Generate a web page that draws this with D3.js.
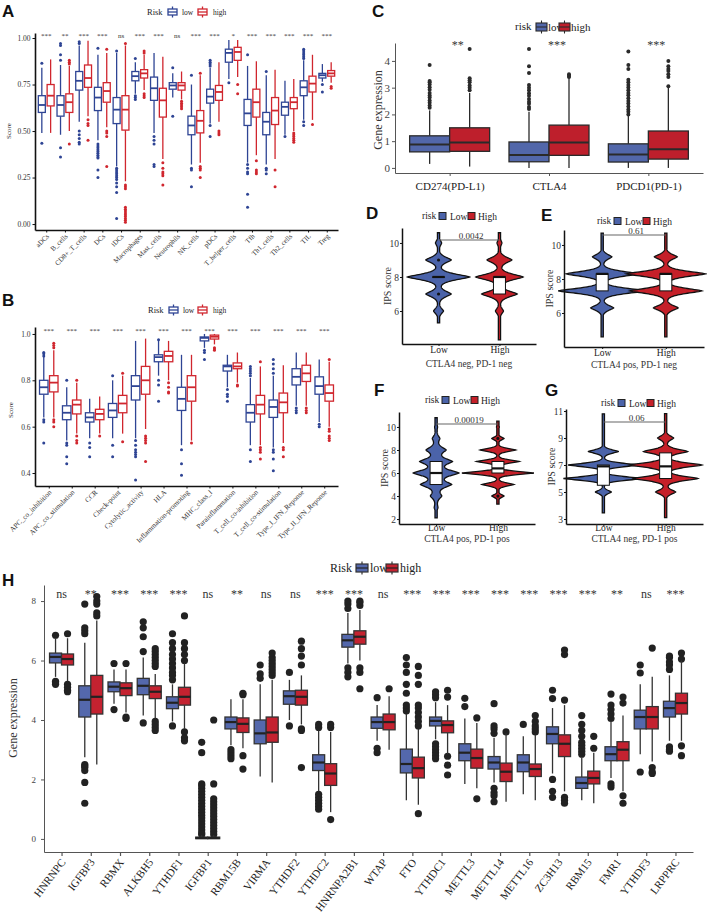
<!DOCTYPE html>
<html><head><meta charset="utf-8">
<script src="https://cdn.jsdelivr.net/npm/d3@7"></script>
<style>body{margin:0;background:#fff}svg{display:block}</style>
</head><body><svg id="c" width="707" height="922"></svg>
<script>
// ---------- Panel A ----------
const aCats = ["aDCs","B_cells","CD8+_T_cells","DCs","iDCs","Macrophages","Mast_cells","Neutrophils","NK_cells","pDCs","T_helper_cells","Tfh","Th1_cells","Th2_cells","TIL","Treg"];
const aSig = ["***","**","***","***","ns","***","***","ns","***","***","*","***","***","***","***","***"];
const aLow = [[0.49,0.60,0.64,0.69,0.84],[0.48,0.58,0.64,0.69,0.855],[0.55,0.72,0.77,0.82,0.96],[0.45,0.61,0.68,0.735,0.91],[0.31,0.54,0.615,0.68,0.92],[0.70,0.77,0.795,0.82,0.87],[0.49,0.665,0.73,0.79,0.92],[0.68,0.725,0.745,0.76,0.81],[0.32,0.48,0.53,0.58,0.75],[0.54,0.65,0.685,0.725,0.84],[0.78,0.87,0.92,0.94,0.99],[0.33,0.53,0.595,0.67,0.85],[0.32,0.48,0.55,0.60,0.80],[0.48,0.585,0.63,0.655,0.77],[0.56,0.69,0.735,0.77,0.88],[0.765,0.785,0.80,0.81,0.86]];
const aLowOut = [[0.865,0.435],[0.88,0.91,0.96,0.97,0.41,0.36],[0.97,0.98,0.50,0.48,0.46,0.44,0.43],[0.945,0.43,0.42,0.41,0.40,0.39,0.38,0.37,0.36,0.355,0.29,0.25],[0.93,0.30,0.29,0.28,0.27,0.26,0.25,0.24,0.22,0.20,0.17,0.03],[0.89,0.69,0.68,0.67],[0.47,0.45,0.43,0.32,0.31],[0.84,0.58],[0.80,0.30,0.29,0.20],[0.85,0.86,0.87,0.88,0.53,0.47],[0.76],[0.91,0.32,0.30,0.28,0.27,0.16,0.09],[0.82,0.30,0.29,0.27],[0.47],[0.89,0.90,0.91,0.92,0.93,0.94,0.55,0.53],[0.75,0.71]];
const aHigh = [[0.49,0.635,0.69,0.75,0.885],[0.50,0.60,0.655,0.70,0.85],[0.58,0.735,0.785,0.855,0.985],[0.52,0.655,0.715,0.76,0.92],[0.23,0.505,0.615,0.69,0.96],[0.72,0.785,0.81,0.83,0.91],[0.35,0.575,0.665,0.73,0.90],[0.67,0.72,0.745,0.76,0.82],[0.33,0.49,0.555,0.61,0.80],[0.55,0.665,0.71,0.745,0.87],[0.79,0.88,0.925,0.95,0.99],[0.37,0.575,0.655,0.725,0.875],[0.35,0.535,0.61,0.68,0.83],[0.50,0.62,0.655,0.68,0.78],[0.56,0.71,0.755,0.795,0.91],[0.76,0.795,0.81,0.825,0.87]];
const aHighOut = [[],[0.88,0.87,0.86,0.43],[0.56,0.54,0.53,0.45],[0.94,0.50,0.49,0.47,0.31],[0.97,0.21,0.20,0.19,0.09,0.08,0.07,0.06,0.05,0.04,0.03,0.02,0.01],[0.93,0.92,0.70,0.69,0.68],[0.33,0.30,0.28,0.27,0.26,0.21],[0.66,0.65,0.64,0.63,0.62],[0.81,0.31,0.30,0.29,0.25],[0.50,0.49,0.48],[0.75,0.70],[0.34,0.29,0.28,0.27],[0.29,0.20],[0.49,0.48,0.47,0.46,0.45,0.44],[0.535],[0.74,0.73]];
const aTicks = [0,0.25,0.5,0.75,1];

// ---------- Panel B ----------
const bCats = ["APC_co_inhibition","APC_co_stimulation","CCR","Check-point","Cytolytic_activity","HLA","Inflammation-promoting","MHC_class_I","Parainflammation","T_cell_co-inhibition","T_cell_co-stimulation","Type_I_IFN_Reponse","Type_II_IFN_Reponse"];
const bSig = ["***","***","***","***","***","***","***","***","***","***","***","***","***"];
const bLow = [[0.64,0.74,0.77,0.80,0.91],[0.54,0.63,0.66,0.69,0.77],[0.55,0.62,0.64,0.66,0.72],[0.55,0.64,0.67,0.70,0.80],[0.55,0.715,0.775,0.82,0.97],[0.82,0.88,0.90,0.91,0.97],[0.52,0.67,0.72,0.77,0.91],[0.94,0.97,0.983,0.987,1.0],[0.77,0.84,0.86,0.865,0.91],[0.52,0.62,0.66,0.695,0.81],[0.51,0.64,0.685,0.715,0.82],[0.69,0.78,0.815,0.85,0.92],[0.62,0.74,0.775,0.815,0.89]];
const bLowOut = [[0.92,0.915,0.905,0.63,0.62,0.53],[0.80,0.53,0.52,0.47,0.44],[0.53,0.51,0.47],[0.82,0.52,0.47],[0.54,0.52,0.50,0.49,0.48,0.47,0.37],[0.975,0.80,0.78,0.71],[0.50,0.44,0.39],[0.93,0.92,0.89],[0.76,0.74,0.73,0.71],[0.82,0.83,0.84,0.85,0.86,0.50,0.45],[0.83,0.85,0.87,0.89,0.50,0.49,0.46,0.41],[0.68,0.67,0.66],[0.61,0.60]];
const bHigh = [[0.64,0.75,0.79,0.82,0.93],[0.57,0.655,0.695,0.715,0.79],[0.57,0.63,0.655,0.675,0.73],[0.57,0.66,0.70,0.735,0.82],[0.59,0.74,0.80,0.86,0.98],[0.80,0.88,0.905,0.925,0.97],[0.54,0.71,0.77,0.82,0.91],[0.955,0.978,0.988,0.995,1.0],[0.79,0.85,0.86,0.875,0.92],[0.52,0.655,0.695,0.735,0.86],[0.53,0.66,0.705,0.745,0.865],[0.69,0.795,0.83,0.865,0.92],[0.60,0.71,0.745,0.78,0.88]];
const bHighOut = [[0.94,0.95,0.96,0.63,0.62,0.60],[0.80,0.56,0.54,0.53],[0.56],[0.83,0.535],[0.56,0.55,0.54,0.53,0.45],[0.79,0.77,0.75,0.745],[0.53],[0.94,0.935,0.93],[0.78,0.775],[0.88,0.51,0.50,0.49,0.46],[0.51,0.50,0.47],[0.68,0.67,0.66],[0.89,0.59,0.58,0.56,0.55,0.54]];
const bTicks = [0.4,0.6,0.8,1.0];

// ---------- Panel C ----------
const cCats = ["CD274(PD-L1)","CTLA4","PDCD1(PD-1)"];
const cSig = ["**","***","***"];
const cLow = [[0.15,0.6,0.88,1.2,2.15],[0,0.23,0.48,0.97,2.1],[0,0.22,0.5,0.9,1.95]];
const cLowOut = [[2.25,2.33,2.44,2.52,2.63,2.71,2.8,2.92,3.02,3.12,3.2,3.25,3.85],[2.2,2.28,2.4,2.47,2.58,2.7,2.79,2.9,3.0,3.1,3.55,3.8,4.45],[2.0,2.1,2.18,2.3,2.41,2.5,2.6,2.72,2.8,2.9,3.01,3.1,3.2,3.3,3.7,3.85,4.35]];
const cHigh = [[0.05,0.62,0.95,1.5,2.8],[0,0.47,0.95,1.6,3.35],[0,0.33,0.7,1.38,3.0]];
const cHighOut = [[2.9,3.0,3.08,3.2,3.28,3.35,4.45],[3.4,3.45,3.5],[3.05,3.4,3.5,3.62,3.7,3.8,4.0]];
const cTicks = [0,1,2,3,4];

// ---------- Panels D-G (IPS violins) ----------
const ipsCats = ["Low","High"];
const dLowLevels = [6,7,8,9,10],  dLowDens = [0.16,0.41,1.0,0.41,0.1], dLowRange = [5.3,10.6], dLowBox = [8,8,8], dLowOut = [9,7];
const dHighLevels = [6,7,8,9,10], dHighDens = [0.13,0.57,0.76,0.4,0.08], dHighRange = [4.3,10.6], dHighBox = [7,8,8];
const eLowLevels = [6.3,7.3,8.3,9.3], eLowDens = [0.26,1.0,0.82,0.22], eLowRange = [4.6,10.7], eLowBox = [7.3,8.3,8.3];
const eHighLevels = [6.3,7.3,8.3,9.3], eHighDens = [0.28,0.82,0.9,0.26], eHighRange = [4.6,10.7], eHighBox = [7.3,8.3,8.3];
const fLowLevels = [3,4,5,6,7,8,9,10], fLowDens = [0.05,0.15,0.42,0.62,0.44,0.27,0.1,0.04], fLowRange = [2.1,10.8], fLowBox = [5,6,7];
const fHighLevels = [4,5,6,7,8,9,10], fHighDens = [0.17,0.45,1.0,0.6,0.5,0.17,0.04], fHighRange = [3.3,10.5], fHighBox = [6,6.4,7], fHighOut = [9,4];
const gLowLevels = [5,6,7,8], gLowDens = [0.2,1.0,0.88,0.38], gLowRange = [3.45,10.8], gLowBox = [5.5,6.9,7];
const gHighLevels = [5,6,7,8,9], gHighDens = [0.25,0.8,0.9,0.55,0.2], gHighRange = [3.1,10.8], gHighBox = [6,6.9,7.9];
const dTicks = [6,8,10], eTicks = [6,8,10], fTicks = [2,4,6,8,10], gTicks = [3,5,7,9,11];
const dP = "0.0042", eP = "0.61", fP = "0.00019", gP = "0.06";
const dTitle = "CTLA4 neg, PD-1 neg", eTitle = "CTLA4 pos, PD-1 neg", fTitle = "CTLA4 pos, PD-1 pos", gTitle = "CTLA4 neg, PD-1 pos";

// ---------- Panel H ----------
const hCats = ["HNRNPC","IGFBP3","RBMX","ALKBH5","YTHDF1","IGFBP1","RBM15B","VIRMA","YTHDF2","YTHDC2","HNRNPA2B1","WTAP","FTO","YTHDC1","METTL3","METTL14","METTL16","ZC3H13","RBM15","FMR1","YTHDF3","LRPPRC"];
const hSig = ["ns","**","***","***","***","ns","**","ns","ns","***","***","ns","***","***","***","***","***","***","***","**","ns","***"];
const hLow = [[5.45,5.92,6.12,6.25,6.75],[2.75,4.1,4.68,5.15,6.6],[4.55,4.95,5.12,5.28,5.7],[4.15,4.85,5.15,5.4,6.1],[3.95,4.38,4.58,4.78,5.2],[0,0.01,0.03,0.06,0.12],[3.15,3.7,3.93,4.1,4.7],[2.1,3.2,3.55,4.0,5.2],[4.0,4.53,4.8,4.98,5.35],[1.6,2.3,2.57,2.83,3.65],[5.9,6.45,6.68,6.88,7.6],[3.3,3.72,3.93,4.1,4.5],[1.3,2.22,2.52,3.02,4.2],[3.35,3.8,3.97,4.1,4.6],[1.85,2.63,2.9,3.2,4.05],[1.9,2.35,2.57,2.77,3.4],[1.5,2.26,2.57,2.83,3.45],[2.2,3.2,3.53,3.77,4.4],[1.3,1.7,1.88,2.08,2.75],[2.05,2.63,2.85,3.1,3.95],[2.85,3.7,4.1,4.33,5.2],[3.3,4.1,4.4,4.63,5.5]];
const hLowOut = [[6.85,5.3,5.25,5.2],[6.9,7.0,7.1,7.9,2.5,2.45,2.4,2.3,1.9,1.2],[5.9,4.35],[6.3,6.8,7.1,7.3,3.9],[5.35,5.5,5.6,5.75,5.9,6.05,6.2,6.4,6.6,6.9,3.8],[0.15,0.2,0.3,0.4,0.5,0.6,0.7,0.8,0.9,1.0,1.1,1.2,1.3,1.4,1.5,1.6,1.7,1.8,1.85,2.9,3.25],[3.0,2.9,2.8,2.7],[5.4,5.55,5.85],[5.6,3.8],[3.75,3.85,1.5,1.4,1.3,1.2,1.1,1.0],[7.75,7.9,8.0,5.75,5.6,5.45],[4.75,3.05,2.9],[4.3,4.4,4.5,4.9,5.2,5.6,5.85,6.1],[4.75,4.85,4.95,3.2,3.1,3.0,2.9,2.8,2.7],[4.45,4.73],[3.55,3.7,3.8,4.55,1.7,1.55,1.45,1.25],[3.85],[4.72,5.0,2.0,1.6,1.4],[2.85,2.95,3.05,3.15,3.25,3.45,3.65,3.85,4.15],[4.05,4.2,4.35,4.5,4.87,1.85,1.75],[5.58,5.85,2.25],[5.7,5.85,5.95,6.1,6.15,3.1,3.0,2.95]];
const hHigh = [[5.3,5.85,6.05,6.22,6.75],[2.5,4.2,4.78,5.5,7.35],[4.25,4.82,5.07,5.25,5.7],[4.05,4.72,4.95,5.15,5.55],[3.7,4.5,4.78,5.1,5.9],[0,0.01,0.03,0.06,0.12],[3.05,3.58,3.87,4.07,4.7],[1.9,3.25,3.58,4.1,5.35],[3.85,4.5,4.78,5.0,5.5],[0.9,1.8,2.2,2.53,3.6],[6.0,6.55,6.8,7.0,7.7],[3.0,3.67,3.93,4.2,4.8],[1.15,2.05,2.38,2.75,3.7],[2.85,3.57,3.83,3.97,4.5],[1.7,2.38,2.72,3.02,3.9],[1.25,1.93,2.26,2.55,3.55],[1.3,2.1,2.35,2.52,3.5],[1.6,2.77,3.2,3.5,4.5],[1.2,1.85,2.05,2.28,2.9],[1.6,2.63,3.0,3.27,4.15],[2.6,3.7,4.1,4.45,5.45],[3.3,4.2,4.57,4.9,6.0]];
const hHighOut = [[6.9,5.2,5.1,5.0,4.95],[7.5,7.6,7.9,8.0,8.15],[5.9,4.1,4.05],[5.8,5.9,6.0,6.1,6.2,6.3,6.4,3.95,3.85,3.75,3.65],[6.0,6.2,6.4,6.6,7.5,3.6,3.4,3.3],[0.15,0.25,0.35,0.45,0.55,0.65,0.75,0.85,0.95,1.05,1.15,1.25,1.35,1.85,4.0],[4.85,4.9,2.8,2.35],[5.5,5.6,5.7,5.8,5.9,6.0,6.1,6.25],[5.85,6.15,6.4,6.65,3.7,3.65,2.4],[3.75,3.85,0.65],[7.85,7.95,8.0,5.75,5.6,5.05],[5.05],[3.8,3.95,4.1,4.25,4.4,4.5,5.2,5.5,5.8,0.85],[4.77,5.0,2.78,2.48,2.15],[4.07,1.35],[3.6],[3.6,3.7,3.8,3.95,4.15],[4.67,6.2,6.35,1.4,1.3,1.2],[3.05,3.45],[4.57,4.77,1.45,1.2],[6.42,2.4,2.25,2.2],[6.05,6.25,3.13,2.8]];
const hTicks = [0,2,4,6,8];

// ================= drawing =================
const svg = d3.select('#c');
const SERIF = '"Liberation Serif","Times New Roman",serif';
const SANS = '"Liberation Sans",Arial,sans-serif';

function letter(t,x,y){ svg.append('text').attr('x',x).attr('y',y).text(t).attr('font-family',SANS).attr('font-weight','bold').attr('font-size',17).attr('fill','#111'); }
function txt(g,t,x,y,fs,o={}){ const e=g.append('text').attr('x',x).attr('y',y).text(t).attr('font-family',SERIF).attr('font-size',fs).attr('fill',o.fill||'#222').attr('text-anchor',o.anchor||'start'); if(o.rot!==undefined) e.attr('transform',`rotate(${o.rot},${x},${y})`); return e; }

function leftAxis(g,y,ticks,fmt,x0,o){
  g.append('g').attr('transform',`translate(${x0},0)`)
   .call(d3.axisLeft(y).tickValues(ticks).tickFormat(fmt).tickSize(o.ts).tickSizeOuter(0).tickPadding(o.tp))
   .call(a=>{a.select('.domain').attr('stroke',o.color).attr('stroke-width',o.sw);
     a.selectAll('.tick line').attr('stroke',o.color).attr('stroke-width',o.tw);
     a.selectAll('text').attr('font-family',SERIF).attr('font-size',o.fs).attr('fill',o.tc);});
}
function bottomAxis(g,x,y0,o){
  const ax=g.append('g').attr('transform',`translate(0,${y0})`)
   .call(d3.axisBottom(x).tickSize(o.ts).tickSizeOuter(0))
   .call(a=>{a.select('.domain').attr('stroke',o.color).attr('stroke-width',o.sw);
     a.selectAll('.tick line').attr('stroke',o.color).attr('stroke-width',o.tw);
     a.selectAll('text').attr('font-family',SERIF).attr('font-size',o.fs).attr('fill',o.tc);});
  if(o.rot){ ax.selectAll('text').attr('x',0).attr('y',0).attr('dy','0.35em').attr('text-anchor','end')
      .attr('transform',`translate(${o.dx||0},${o.dy}) rotate(${o.rot})`); }
  else { ax.selectAll('text').attr('y',o.ly); }
  return ax;
}

function boxes(g,cats,x,y,sets,o){
  sets.forEach(s=>{
    cats.forEach((c,i)=>{
      const d=s.stats[i], cx=x(c)+s.off;
      s.outs[i].forEach(v=>g.append('circle').attr('cx',cx).attr('cy',y(v)).attr('r',o.r).attr('fill',s.pt));
      g.append('line').attr('x1',cx).attr('x2',cx).attr('y1',y(d[0])).attr('y2',y(d[1])).attr('stroke',s.line).attr('stroke-width',o.sw);
      g.append('line').attr('x1',cx).attr('x2',cx).attr('y1',y(d[3])).attr('y2',y(d[4])).attr('stroke',s.line).attr('stroke-width',o.sw);
      g.append('rect').attr('x',cx-o.bw/2).attr('y',y(d[3])).attr('width',o.bw).attr('height',Math.max(0.3,y(d[1])-y(d[3])))
        .attr('fill',s.fill).attr('stroke',s.line).attr('stroke-width',o.sw);
      g.append('line').attr('x1',cx-o.bw/2).attr('x2',cx+o.bw/2).attr('y1',y(d[2])).attr('y2',y(d[2])).attr('stroke',s.med).attr('stroke-width',o.mw);
    });
  });
}

function boxKey(g,x,yc,w,h,fill,line,med,sw){
  g.append('line').attr('x1',x+w/2).attr('x2',x+w/2).attr('y1',yc-h/2-2.5).attr('y2',yc+h/2+2.5).attr('stroke',line).attr('stroke-width',sw);
  g.append('rect').attr('x',x).attr('y',yc-h/2).attr('width',w).attr('height',h).attr('fill',fill).attr('stroke',line).attr('stroke-width',sw);
  g.append('line').attr('x1',x).attr('x2',x+w).attr('y1',yc).attr('y2',yc).attr('stroke',med).attr('stroke-width',sw);
}

const BLUE_L='#2E4494', RED_L='#D0262E';

// ---------------- A ----------------
(function(){
  const g=svg.append('g');
  letter('A',2,17);
  const x=d3.scalePoint().domain(aCats).range([35,338]).padding(0.6);
  const y=d3.scaleLinear().domain([-0.032,1.027]).range([230,33]);
  leftAxis(g,y,aTicks,d3.format('.2f'),35,{ts:2.5,tp:2,color:'#111',sw:1.6,tw:1,fs:7.5,tc:'#333'});
  bottomAxis(g,x,230,{ts:2.5,color:'#111',sw:1.6,tw:1,fs:7,tc:'#333',rot:-45,dy:5,dx:1});
  boxes(g,aCats,x,y,[
    {stats:aLow,outs:aLowOut,off:-4.4,fill:'#fff',line:BLUE_L,med:BLUE_L,pt:BLUE_L},
    {stats:aHigh,outs:aHighOut,off:4.4,fill:'#fff',line:RED_L,med:RED_L,pt:RED_L}],{bw:7,sw:1.3,mw:1.8,r:1.5});
  aCats.forEach((c,i)=>txt(g,aSig[i],x(c),38,7,{anchor:'middle',fill:'#333'}));
  txt(g,'Score',11,131,7,{anchor:'middle',rot:-90,fill:'#333'});
  txt(g,'Risk',147,15,8.5,{fill:'#222'});
  boxKey(g,168,12,9,6,'#fff',BLUE_L,BLUE_L,1.3);
  txt(g,'low',182,15,7.5);
  boxKey(g,198,12,9,6,'#fff',RED_L,RED_L,1.3);
  txt(g,'high',213,15,7.5);
})();

// ---------------- B ----------------
(function(){
  const g=svg.append('g');
  letter('B',2,306);
  const x=d3.scalePoint().domain(bCats).range([35,338]).padding(0.6);
  const y=d3.scaleLinear().domain([0.344,1.03]).range([486,327]);
  leftAxis(g,y,bTicks,d3.format('.1f'),35,{ts:2.5,tp:2,color:'#111',sw:1.6,tw:1,fs:7.5,tc:'#333'});
  bottomAxis(g,x,486,{ts:2.5,color:'#111',sw:1.6,tw:1,fs:7.2,tc:'#333',rot:-45,dy:5,dx:1});
  boxes(g,bCats,x,y,[
    {stats:bLow,outs:bLowOut,off:-5,fill:'#fff',line:BLUE_L,med:BLUE_L,pt:BLUE_L},
    {stats:bHigh,outs:bHighOut,off:5,fill:'#fff',line:RED_L,med:RED_L,pt:RED_L}],{bw:8.5,sw:1.3,mw:1.8,r:1.5});
  bCats.forEach((c,i)=>txt(g,bSig[i],x(c),333,7,{anchor:'middle',fill:'#333'}));
  txt(g,'Score',13,410,7,{anchor:'middle',rot:-90,fill:'#333'});
  txt(g,'Risk',148,313,8.5);
  boxKey(g,169,310,9,6,'#fff',BLUE_L,BLUE_L,1.3);
  txt(g,'low',183,313,7.5);
  boxKey(g,198,310,9,6,'#fff',RED_L,RED_L,1.3);
  txt(g,'high',213,313,7.5);
})();

// ---------------- C ----------------
const C_BLUE='#5267AA', C_RED='#BE1F2C', DARK='#2a2a2a';
(function(){
  const g=svg.append('g');
  letter('C',372,17);
  const x=d3.scalePoint().domain(cCats).range([395,703]).padding(0.55);
  const y=d3.scaleLinear().domain([-0.19,4.67]).range([173,43]);
  leftAxis(g,y,cTicks,d3.format('d'),395,{ts:3,tp:2,color:'#555',sw:1,tw:1,fs:11,tc:'#444'});
  bottomAxis(g,x,173,{ts:3,color:'#555',sw:1,tw:1,fs:11,tc:'#222',ly:9});
  boxes(g,cCats,x,y,[
    {stats:cLow,outs:cLowOut,off:-20,fill:C_BLUE,line:DARK,med:DARK,pt:DARK},
    {stats:cHigh,outs:cHighOut,off:20,fill:C_RED,line:DARK,med:DARK,pt:DARK}],{bw:40,sw:1.3,mw:2,r:2});
  cCats.forEach((c,i)=>txt(g,cSig[i],x(c)+8,49,12,{anchor:'middle',fill:'#333'}));
  txt(g,'Gene expression',382,110,12,{anchor:'middle',rot:-90,fill:'#333'});
  txt(g,'risk',515,30,11);
  boxKey(g,536,27,11,8,C_BLUE,DARK,DARK,1.1);
  txt(g,'low',548,31,11);
  boxKey(g,559,27,11,8,C_RED,DARK,DARK,1.1);
  txt(g,'high',571,31,11);
})();

// ---------------- D-G violins ----------------
const V_BLUE='#4B63A9', V_RED='#C52029';
function violin(g,cx,y,levels,dens,range,box,outs,wS,bw,fill){
  const pts=[];
  for(let v=range[0]; v<=range[1]+1e-9; v+=0.02){
    let s=0; levels.forEach((l,i)=>{ s+=dens[i]*Math.exp(-Math.pow(Math.abs(v-l)/(bw*1.25),1.4)); });
    pts.push({v, w:Math.max(1.1, wS(Math.min(s,1.05)))});
  }
  const area=d3.area().y(d=>y(d.v)).x0(d=>cx-d.w).x1(d=>cx+d.w).curve(d3.curveLinear);
  g.append('path').datum(pts).attr('d',area).attr('fill',fill).attr('stroke','#111').attr('stroke-width',1.3);
  (outs||[]).forEach(v=>g.append('circle').attr('cx',cx).attr('cy',y(v)).attr('r',1.6).attr('fill','#111'));
  const bwid=12;
  g.append('rect').attr('x',cx-bwid/2).attr('y',y(box[2])).attr('width',bwid).attr('height',Math.max(0.3,y(box[0])-y(box[2])))
    .attr('fill','#fff').attr('stroke','#111').attr('stroke-width',1);
  g.append('line').attr('x1',cx-bwid/2).attr('x2',cx+bwid/2).attr('y1',y(box[1])).attr('y2',y(box[1])).attr('stroke','#111').attr('stroke-width',2.2);
}
function ipsPanel(o){
  const g=svg.append('g');
  letter(o.L,o.lx,o.ly);
  const x=d3.scalePoint().domain(ipsCats).range([o.x0,o.x1]).padding(0.6);
  const y=d3.scaleLinear().domain(o.dom).range([o.yb,o.yt]);
  const wS=d3.scaleLinear().domain([0,1]).range([0,o.maxW]);
  violin(g,x('Low'),y,o.low[0],o.low[1],o.low[2],o.low[3],o.low[4],wS,o.bw[0],V_BLUE);
  violin(g,x('High'),y,o.high[0],o.high[1],o.high[2],o.high[3],o.high[4],wS,o.bw[1],V_RED);
  leftAxis(g,y,o.ticks,d3.format('d'),o.x0,{ts:2,tp:1,color:'#111',sw:1.5,tw:1,fs:9.5,tc:'#333'});
  bottomAxis(g,x,o.yb,{ts:2,color:'#111',sw:1.5,tw:1,fs:9.5,tc:'#222',ly:o.lab});
  g.append('line').attr('x1',x('Low')).attr('x2',x('High')).attr('y1',o.py).attr('y2',o.py).attr('stroke','#666').attr('stroke-width',1.2);
  txt(g,o.p,(x('Low')+x('High'))/2+2,o.py-1.5,9,{anchor:'middle',fill:'#333'});
  txt(g,o.title,(o.x0+o.x1)/2,o.yb+o.tY,9.5,{anchor:'middle',fill:'#333'});
  txt(g,'IPS score',o.x0-11,(o.yt+o.yb)/2,10,{anchor:'middle',rot:-90,fill:'#333'});
  const k=o.kx, ky=o.ky;
  txt(g,'risk',k,ky+3,9.5);
  g.append('rect').attr('x',k+17).attr('y',ky-3.5).attr('width',7).attr('height',7).attr('fill',V_BLUE).attr('stroke','#222').attr('stroke-width',1);
  txt(g,'Low',k+28,ky+3.5,9.5);
  g.append('rect').attr('x',k+46).attr('y',ky-3.5).attr('width',7).attr('height',7).attr('fill',V_RED).attr('stroke','#222').attr('stroke-width',1);
  txt(g,'High',k+56,ky+3.5,9.5);
}
ipsPanel({L:'D',lx:366,ly:219,x0:402,x1:536,dom:[4.06,10.88],yb:344,yt:228,maxW:31,bw:[0.2,0.2],ticks:dTicks,
  low:[dLowLevels,dLowDens,dLowRange,dLowBox,dLowOut],high:[dHighLevels,dHighDens,dHighRange,dHighBox,[]],
  p:dP,py:240,title:dTitle,kx:422,ky:216,lab:2.4,tY:23});
ipsPanel({L:'E',lx:541,ly:221,x0:564,x1:704,dom:[4.0,10.88],yb:347,yt:230,maxW:44,bw:[0.18,0.18],ticks:eTicks,
  low:[eLowLevels,eLowDens,eLowRange,eLowBox,[]],high:[eHighLevels,eHighDens,eHighRange,eHighBox,[]],
  p:eP,py:235,title:eTitle,kx:597,ky:221,lab:2.4,tY:21});
ipsPanel({L:'F',lx:374,ly:396,x0:399,x1:535,dom:[1.57,11.3],yb:524,yt:412,maxW:36,bw:[0.3,0.16],ticks:fTicks,
  low:[fLowLevels,fLowDens,fLowRange,fLowBox,[]],high:[fHighLevels,fHighDens,fHighRange,fHighBox,fHighOut],
  p:fP,py:424,title:fTitle,kx:425,ky:400,lab:0.3,tY:17.5});
ipsPanel({L:'G',lx:545,ly:396,x0:566,x1:703,dom:[2.63,11.15],yb:524,yt:409,maxW:40,bw:[0.16,0.2],ticks:gTicks,
  low:[gLowLevels,gLowDens,gLowRange,gLowBox,[]],high:[gHighLevels,gHighDens,gHighRange,gHighBox,[]],
  p:gP,py:422,title:gTitle,kx:601,ky:403,lab:0.3,tY:17.5});

// ---------------- H ----------------
const H_BLUE='#5468AC', H_RED='#C42230', H_DARK='#333';
(function(){
  const g=svg.append('g');
  letter('H',2,586);
  const x=d3.scalePoint().domain(hCats).range([44,693]).padding(0.6);
  const y=d3.scaleLinear().domain([-0.44,8.54]).range([852,585]);
  leftAxis(g,y,hTicks,d3.format('d'),44,{ts:3,tp:5,color:'#555',sw:1,tw:1,fs:9,tc:'#444'});
  bottomAxis(g,x,852,{ts:4,color:'#555',sw:1,tw:1.2,fs:11,tc:'#222',rot:-53,dy:8,dx:1});
  boxes(g,hCats,x,y,[
    {stats:hLow,outs:hLowOut,off:-6,fill:H_BLUE,line:H_DARK,med:'#222',pt:'#222'},
    {stats:hHigh,outs:hHighOut,off:6,fill:H_RED,line:H_DARK,med:'#222',pt:'#222'}],{bw:12,sw:1.3,mw:2.2,r:3.6});
  hCats.forEach((c,i)=>txt(g,hSig[i],x(c),598,12,{anchor:'middle',fill:'#333'}));
  txt(g,'Gene expression',17,718,12,{anchor:'middle',rot:-90,fill:'#333'});
  txt(g,'Risk',330,572,12);
  boxKey(g,356,568,12,8,H_BLUE,H_DARK,'#222',1.2);
  txt(g,'low',370,572,12);
  boxKey(g,386,568,12,8,H_RED,H_DARK,'#222',1.2);
  txt(g,'high',400,572,12);
})();
</script></body></html>
